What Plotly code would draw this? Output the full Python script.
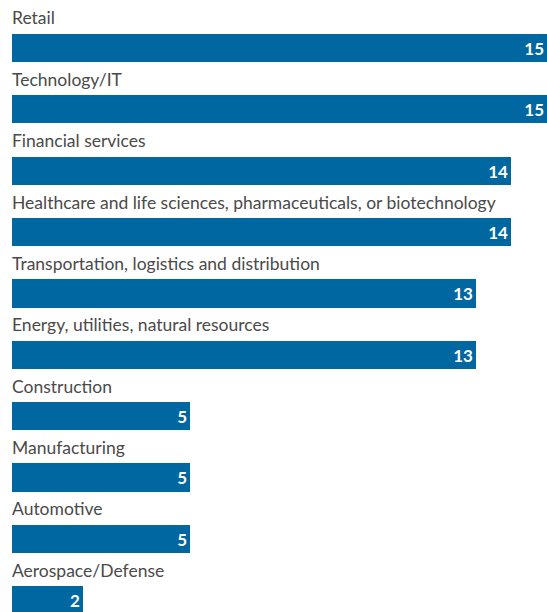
import plotly.graph_objects as go

industries = [
    "Retail",
    "Technology/IT",
    "Financial services",
    "Healthcare and life sciences, pharmaceuticals, or biotechnology",
    "Transportation, logistics and distribution",
    "Energy, utilities, natural resources",
    "Construction",
    "Manufacturing",
    "Automotive",
    "Aerospace/Defense",
]
values = [15, 15, 14, 14, 13, 13, 5, 5, 5, 2]

bar_color = "#0067a0"
label_color = "#4a4a4a"
positions = list(range(len(industries)))

fig = go.Figure()
fig.add_trace(go.Bar(
    x=values,
    y=positions,
    orientation="h",
    width=0.46,
    marker=dict(color=bar_color, line=dict(width=0)),
    text=[str(v) for v in values],
    textposition="inside",
    insidetextanchor="end",
    textfont=dict(family="Lato", size=17, color="white", weight="bold"),
    hoverinfo="skip",
))

# category labels sit above each bar
for pos, name in zip(positions, industries):
    fig.add_annotation(
        x=0, y=pos, xref="x", yref="y",
        text=name, showarrow=False,
        xanchor="left", yanchor="middle",
        yshift=30, xshift=-2,
        font=dict(family="Lato", size=17.5, color=label_color),
    )

fig.update_layout(
    width=547, height=612,
    margin=dict(l=12, r=0, t=0, b=0),
    plot_bgcolor="white", paper_bgcolor="white",
    showlegend=False,
    bargap=0,
)
fig.update_xaxes(range=[0, 15], visible=False, fixedrange=True)
fig.update_yaxes(range=[9.19, -0.78], visible=False, fixedrange=True)

# drop the default page margin so the chart fills the window
fig.write_html("out.html", post_script="document.body.style.margin='0';",
               config={"displayModeBar": False})
